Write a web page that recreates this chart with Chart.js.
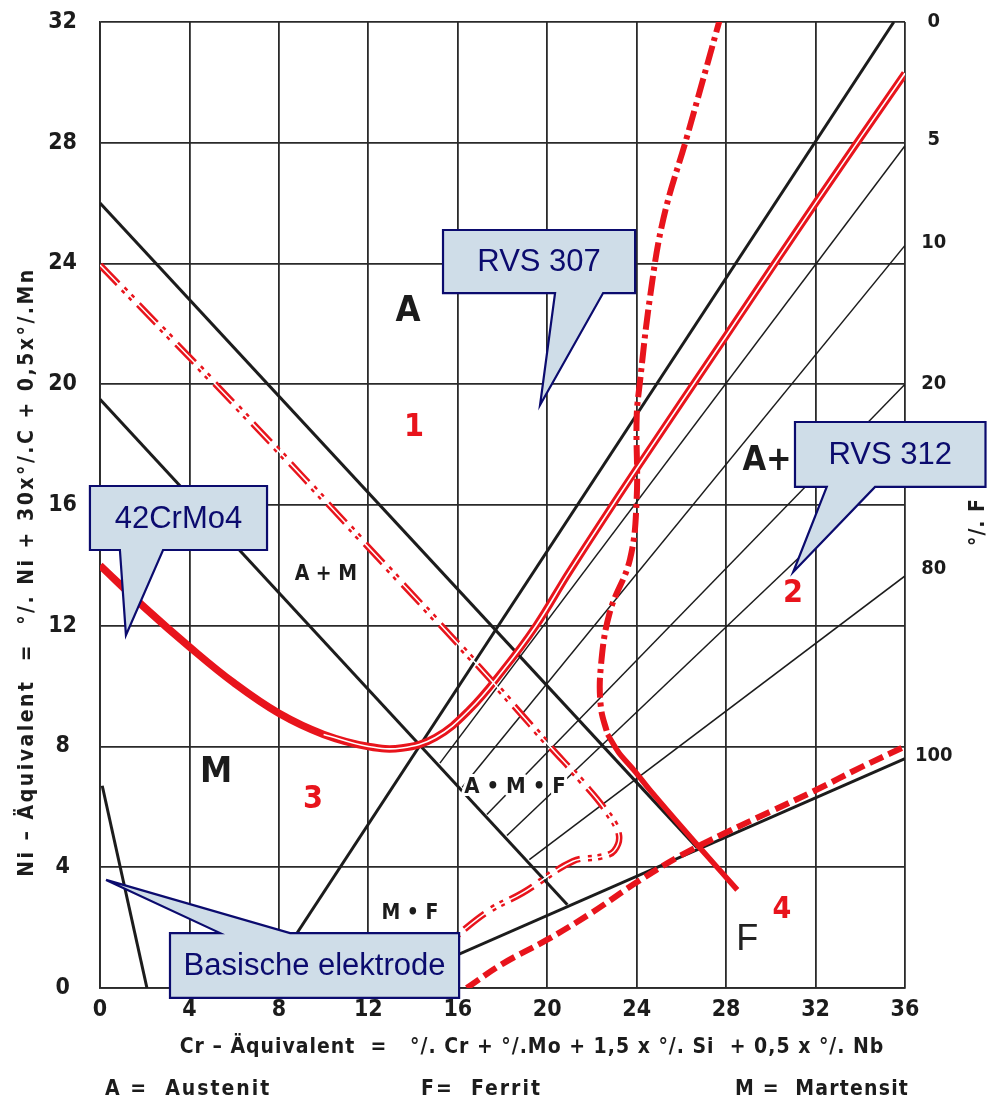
<!DOCTYPE html>
<html>
<head>
<meta charset="utf-8">
<script src="https://cdn.jsdelivr.net/npm/chart.js@4/dist/chart.umd.min.js"></script>
<style>
  html, body { margin: 0; padding: 0; background: #fff; }
  canvas { display: block; }
</style>
</head>
<body>
<canvas id="myChart" width="987" height="1104"></canvas>
<script>
'use strict'

//axis ticks
const crTicks = [0, 4, 8, 12, 16, 20, 24, 28, 32, 36];
const niTicks = [0, 4, 8, 12, 16, 20, 24, 28, 32];
const ferriteLabels = ['0', '5', '10', '20', '80', '100'];
const ferriteLabelNi = [32, 28.1, 24.7, 20.0, 13.9, 7.7];

//ferrite lines (0 .. 100 %)
const ferritePct = [0, 5, 10, 20, 40, 80, 100];
const ferriteCrStart = [7.2, 15.2, 16.2, 17.3, 18.2, 19.2, 12.6];
const ferriteNiStart = [0, 7.45, 6.65, 5.75, 5.05, 4.25, 0];
const ferriteCrEnd = [35.5, 36, 36, 36, 36, 36, 36];
const ferriteNiEnd = [32, 27.9, 24.6, 20.0, 17.6, 13.65, 7.6];

//A+M boundaries and basic electrode line
const amUpperCr = [0, 26.7];
const amUpperNi = [26, 4.65];
const amLowerCr = [0, 20.9];
const amLowerNi = [19.5, 2.76];
const basischeCr = [0.1, 2.1];
const basischeNi = [6.7, 0];

//red curves
const crMo4Cr = [0, 2, 4, 6, 8, 10, 12, 13.5, 15, 16.5, 18, 19.5, 21, 24, 28, 32, 36];
const crMo4Ni = [14.0, 12.6, 11.3, 10.1, 9.1, 8.4, 8.0, 7.95, 8.3, 9.2, 10.5, 12.0, 13.8, 17.2, 21.6, 26.0, 30.3];

const rvs307Cr = [0, 6, 12, 17, 20, 21.6, 22.6, 23.2, 23.0, 22.4, 21.15, 18.9, 17.44, 16.1, 15.2];
const rvs307Ni = [23.95, 19.35, 14.6, 10.6, 8.1, 6.8, 5.9, 5.1, 4.55, 4.35, 4.2, 3.15, 2.58, 1.82, 1.2];

const rvs312Cr = [27.8, 26.25, 25.2, 24.6, 24.15, 24.0, 24.0, 23.7, 22.8, 22.4, 22.4, 22.7];
const rvs312Ni = [32.3, 28.2, 25.5, 22.9, 20.1, 18.9, 16.2, 14.2, 12.45, 10.66, 9.3, 8.4];
const rvs312TailCr = [22.7, 23.2, 23.9, 24.6, 26.7, 28.5];
const rvs312TailNi = [8.4, 7.8, 7.2, 6.55, 4.75, 3.25];

const curve4Cr = [16.4, 18, 20, 22, 24, 26, 28, 30, 32, 34, 36];
const curve4Ni = [0, 0.8, 1.6, 2.5, 3.5, 4.4, 5.15, 5.85, 6.55, 7.3, 8.0];

//styles
const red = '#e8141c';
const ink = '#1c1c1c';
const navy = '#0b0b6e';
const scanFont = "'DejaVu Sans Condensed', 'Liberation Sans Narrow', 'DejaVu Sans', sans-serif";
const boxFont = "'Liberation Sans', Arial, sans-serif";

function toPoints(xs, ys) {
  return xs.map((x, i) => ({x: x, y: ys[i]}));
}

function lineSet(points, color, width, order, dash, tension) {
  return {
    data: points,
    showLine: true,
    pointRadius: 0,
    borderColor: color,
    borderWidth: width,
    borderDash: dash || [],
    tension: tension || 0,
    order: order,
    fill: false
  };
}

let datasets = [];

for (let i = 0; i < ferritePct.length; i++) {
  let thick = ferritePct[i] === 0 || ferritePct[i] === 100;
  datasets.push(lineSet(
    toPoints([ferriteCrStart[i], ferriteCrEnd[i]], [ferriteNiStart[i], ferriteNiEnd[i]]),
    ink, thick ? 3 : 1.5, 10));
}
datasets.push(lineSet(toPoints(amUpperCr, amUpperNi), ink, 3, 9));
datasets.push(lineSet(toPoints(amLowerCr, amLowerNi), ink, 3, 9));
datasets.push(lineSet(toPoints(basischeCr, basischeNi), ink, 3, 9));

let crMo4Points = toPoints(crMo4Cr, crMo4Ni);
datasets.push(lineSet(crMo4Points, red, 7.5, 5, [], 0.4));
datasets.push(lineSet(crMo4Points.filter(p => p.x >= 10), '#ffffff', 1.6, 4, [], 0.4));

let rvs307Points = toPoints(rvs307Cr, rvs307Ni);
datasets.push(lineSet(rvs307Points, red, 6.5, 5, [26, 7, 4, 6, 4, 8], 0.4));
datasets.push(lineSet(rvs307Points, '#ffffff', 1.5, 4, [], 0.4));

datasets.push(lineSet(toPoints(rvs312Cr, rvs312Ni), red, 6, 5, [20, 5, 4, 5], 0.4));
datasets.push(lineSet(toPoints(rvs312TailCr, rvs312TailNi), red, 5.5, 5, [], 0.3));

datasets.push(lineSet(toPoints(curve4Cr, curve4Ni), red, 6, 5, [15, 6], 0.4));

//labels inside the diagram
const regionLabels = [
  {text: 'A', cr: 13.77, ni: 22.39, size: 36, color: ink},
  {text: '1', cr: 14.04, ni: 18.55, size: 32, color: red},
  {text: 'A + M', cr: 10.1, ni: 13.68, size: 21, color: ink},
  {text: 'M', cr: 5.19, ni: 7.12, size: 36, color: ink},
  {text: '3', cr: 9.53, ni: 6.23, size: 32, color: red},
  {text: 'A • M • F', cr: 18.56, ni: 6.66, size: 22, color: ink},
  {text: 'M • F', cr: 13.86, ni: 2.45, size: 21, color: ink},
  {text: 'A+F', cr: 30.3, ni: 17.46, size: 34, color: ink},
  {text: '2', cr: 30.99, ni: 13.05, size: 32, color: red},
  {text: '4', cr: 30.5, ni: 2.58, size: 30, color: red},
  {text: 'F', cr: 28.94, ni: 1.59, size: 36, color: '#222222', plain: true}
];

const callouts = [
  {text: 'RVS 307', left: 15.34, right: 23.93, bottom: 23.02, top: 25.11, tailA: 20.35, tailB: 22.5, tipCr: 19.68, tipNi: 19.31, tailOnTop: false},
  {text: 'RVS 312', left: 31.08, right: 39.6, bottom: 16.6, top: 18.75, tailA: 32.5, tailB: 34.66, tipCr: 31.0, tipNi: 13.78, tailOnTop: false},
  {text: '42CrMo4', left: -0.45, right: 7.47, bottom: 14.51, top: 16.63, tailA: 0.89, tailB: 2.82, tipCr: 1.16, tipNi: 11.69, tailOnTop: false},
  {text: 'Basische elektrode', left: 3.13, right: 16.06, bottom: -0.33, top: 1.82, tailA: 5.37, tailB: 8.5, tipCr: 0.27, tipNi: 3.58, tailOnTop: true}
];

const diagramText = {
  id: 'diagramText',
  afterDatasetsDraw(chart) {
    const ctx = chart.ctx;
    const xs = chart.scales.x;
    const ys = chart.scales.y;
    ctx.save();
    ctx.textBaseline = 'middle';
    ctx.lineJoin = 'round';
    regionLabels.forEach(l => {
      let px = xs.getPixelForValue(l.cr);
      let py = ys.getPixelForValue(l.ni);
      ctx.font = (l.plain ? '' : 'bold ') + l.size + 'px ' + (l.plain ? boxFont : scanFont);
      ctx.textAlign = 'center';
      ctx.strokeStyle = '#ffffff';
      ctx.lineWidth = 6;
      ctx.strokeText(l.text, px, py);
      ctx.fillStyle = l.color;
      ctx.fillText(l.text, px, py);
    });
    ctx.restore();
  },
  afterDraw(chart) {
    const ctx = chart.ctx;
    const xs = chart.scales.x;
    const ys = chart.scales.y;
    ctx.save();
    ctx.fillStyle = ink;
    ctx.textBaseline = 'middle';

    //axis titles
    ctx.font = 'bold 21px ' + scanFont;
    ctx.textAlign = 'center';
    ctx.letterSpacing = '1px';
    ctx.fillText('Cr \u2013 \u00c4quivalent  =   \u00b0/. Cr + \u00b0/.Mo + 1,5 x \u00b0/. Si  + 0,5 x \u00b0/. Nb', 532, 1048);

    ctx.save();
    ctx.letterSpacing = '2.5px';
    ctx.translate(28, 572);
    ctx.rotate(-Math.PI / 2);
    ctx.fillText('Ni \u2013 \u00c4quivalent  =  \u00b0/. Ni + 30x\u00b0/.C + 0,5x\u00b0/.Mn', 0, 0);
    ctx.restore();

    ctx.save();
    ctx.translate(979, 522);
    ctx.rotate(-Math.PI / 2);
    ctx.fillText('\u00b0/. F', 0, 0);
    ctx.restore();

    ctx.textAlign = 'left';
    ctx.letterSpacing = '2px';
    ctx.fillText('A =  Austenit', 105, 1090);
    ctx.fillText('F=  Ferrit', 421, 1090);
    ctx.letterSpacing = '1.2px';
    ctx.fillText('M =  Martensit', 735, 1090);
    ctx.letterSpacing = '0px';

    //callouts
    callouts.forEach(c => {
      let l = xs.getPixelForValue(c.left);
      let r = xs.getPixelForValue(c.right);
      let t = ys.getPixelForValue(c.top);
      let b = ys.getPixelForValue(c.bottom);
      let a = xs.getPixelForValue(c.tailA);
      let e = xs.getPixelForValue(c.tailB);
      let tx = xs.getPixelForValue(c.tipCr);
      let ty = ys.getPixelForValue(c.tipNi);
      ctx.beginPath();
      if (c.tailOnTop) {
        ctx.moveTo(l, t);
        ctx.lineTo(a, t);
        ctx.lineTo(tx, ty);
        ctx.lineTo(e, t);
        ctx.lineTo(r, t);
        ctx.lineTo(r, b);
        ctx.lineTo(l, b);
      } else {
        ctx.moveTo(l, t);
        ctx.lineTo(r, t);
        ctx.lineTo(r, b);
        ctx.lineTo(e, b);
        ctx.lineTo(tx, ty);
        ctx.lineTo(a, b);
        ctx.lineTo(l, b);
      }
      ctx.closePath();
      ctx.fillStyle = '#cfdde8';
      ctx.fill();
      ctx.strokeStyle = navy;
      ctx.lineWidth = 2.2;
      ctx.lineJoin = 'miter';
      ctx.stroke();
      ctx.fillStyle = navy;
      ctx.font = '31px ' + boxFont;
      ctx.textAlign = 'center';
      ctx.fillText(c.text, (l + Math.min(r, 987)) / 2, (t + b) / 2 + 1);
    });
    ctx.restore();
  }
};

const tickFont = {family: scanFont, size: 23, weight: 'bold'};

function noVerticalPadding(scale, width) {
  scale.width = width;
  scale.paddingTop = 0;
  scale.paddingBottom = 0;
}

const config = {
  type: 'scatter',
  data: {datasets: datasets},
  options: {
    responsive: false,
    animation: false,
    layout: {padding: {top: 22, left: 0, right: 0, bottom: 0}},
    plugins: {legend: {display: false}, tooltip: {enabled: false}},
    scales: {
      x: {
        type: 'linear', min: 0, max: 36,
        afterBuildTicks: scale => { scale.ticks = crTicks.map(v => ({value: v})); },
        afterFit: scale => { scale.height = 116; scale.paddingLeft = 0; scale.paddingRight = 0; },
        grid: {color: '#2a2a2a', lineWidth: 1.8, drawTicks: false},
        border: {color: '#2a2a2a', width: 1.8},
        ticks: {font: tickFont, color: ink, padding: 8, autoSkip: false, maxRotation: 0}
      },
      y: {
        type: 'linear', min: 0, max: 32,
        afterBuildTicks: scale => { scale.ticks = niTicks.map(v => ({value: v})); },
        afterFit: scale => noVerticalPadding(scale, 100),
        grid: {color: '#2a2a2a', lineWidth: 1.8, drawTicks: false},
        border: {color: '#2a2a2a', width: 1.8},
        ticks: {font: tickFont, color: ink, padding: 23, crossAlign: 'center', autoSkip: false}
      },
      y2: {
        type: 'linear', position: 'right', min: 0, max: 32,
        afterBuildTicks: scale => { scale.ticks = ferriteLabelNi.map(v => ({value: v})); },
        afterFit: scale => noVerticalPadding(scale, 82),
        grid: {display: false, drawTicks: false},
        border: {display: false},
        ticks: {
          font: {family: scanFont, size: 20, weight: 'bold'}, color: ink,
          padding: 10, crossAlign: 'center', autoSkip: false,
          callback: (value, index) => ferriteLabels[index]
        }
      }
    }
  },
  plugins: [diagramText]
};

let canvasChart = document.getElementById('myChart');
const myChart = new Chart(canvasChart, config);
</script>
</body>
</html>
